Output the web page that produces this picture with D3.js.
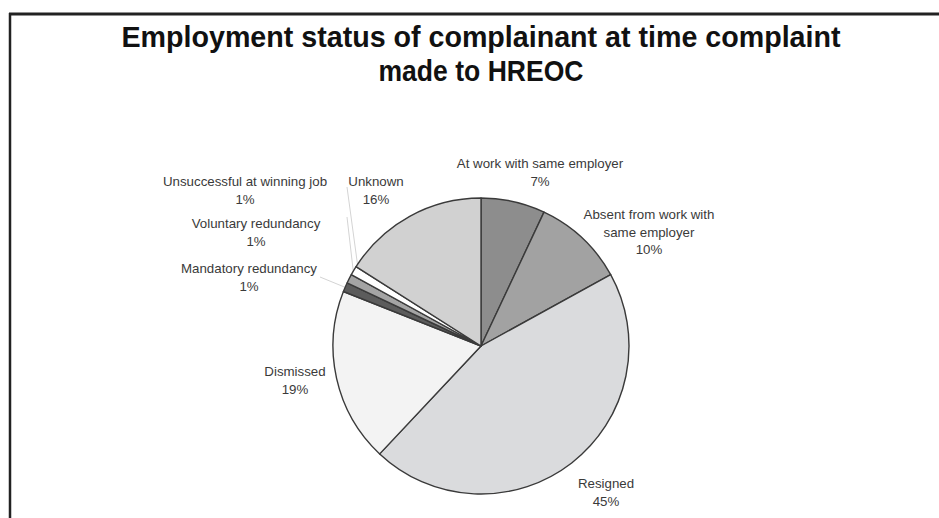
<!DOCTYPE html>
<html>
<head>
<meta charset="utf-8">
<script src="https://cdn.jsdelivr.net/npm/d3@7/dist/d3.min.js"></script>
<style>
  html, body { margin: 0; padding: 0; background: #fff; }
  svg { display: block; }
</style>
</head>
<body>
<svg id="chart" width="939" height="518"></svg>
<script>
// Employment status categories, clockwise from 12 o'clock
const categories = [
  "At work with same employer",
  "Absent from work with same employer",
  "Resigned",
  "Dismissed",
  "Mandatory redundancy",
  "Voluntary redundancy",
  "Unsuccessful at winning job",
  "Unknown"
];
const percentages = [7, 10, 45, 19, 1, 1, 1, 16];
const titleLines = ["Employment status of complainant at time complaint", "made to HREOC"];

const fills = ["#8d8d8d", "#a2a2a2", "#dadbdd", "#f3f3f3", "#5c5c5c", "#a4a4a4", "#ffffff", "#d1d1d1"];

// label text lines and anchor points (centre of first line's baseline)
const labelLayout = {
  "At work with same employer":          { lines: ["At work with same employer"], x: 540, y: 168 },
  "Absent from work with same employer": { lines: ["Absent from work with", "same employer"], x: 649, y: 219 },
  "Resigned":                            { lines: ["Resigned"], x: 606, y: 488 },
  "Dismissed":                           { lines: ["Dismissed"], x: 295, y: 376 },
  "Mandatory redundancy":                { lines: ["Mandatory redundancy"], x: 249, y: 273 },
  "Voluntary redundancy":                { lines: ["Voluntary redundancy"], x: 256, y: 228 },
  "Unsuccessful at winning job":         { lines: ["Unsuccessful at winning job"], x: 245, y: 186 },
  "Unknown":                             { lines: ["Unknown"], x: 376, y: 186 }
};
// faint leader lines for the thin slices: label-side end point
const leaderEnds = {
  "Mandatory redundancy": [320, 277],
  "Voluntary redundancy": [347, 217],
  "Unsuccessful at winning job": [347, 187]
};

const svg = d3.select("#chart");
const W = 939, H = 518;

// frame: top and left rules
svg.append("rect").attr("x", 0).attr("y", 0).attr("width", W).attr("height", H).attr("fill", "#fff");
svg.append("line").attr("x1", 9).attr("x2", W).attr("y1", 14).attr("y2", 14)
  .attr("stroke", "#222").attr("stroke-width", 3);
svg.append("line").attr("x1", 10).attr("x2", 10).attr("y1", 13).attr("y2", H)
  .attr("stroke", "#222").attr("stroke-width", 2.5);

// title, slightly condensed bold sans
const titleWidths = [719, 205];
titleLines.forEach((t, i) => {
  svg.append("text")
    .attr("x", 481).attr("y", 47 + i * 34)
    .attr("text-anchor", "middle")
    .attr("font-family", "Liberation Sans, Arial, sans-serif")
    .attr("font-weight", "bold")
    .attr("font-size", 29.5)
    .attr("fill", "#111")
    .attr("textLength", titleWidths[i])
    .attr("lengthAdjust", "spacingAndGlyphs")
    .text(t);
});

// pie
const cx = 481, cy = 346, R = 148;
const data = categories.map((c, i) => ({ name: c, value: percentages[i], fill: fills[i] }));
const pie = d3.pie().value(d => d.value).sort(null);
const arc = d3.arc().innerRadius(0).outerRadius(R);
const arcs = pie(data);

const g = svg.append("g").attr("transform", `translate(${cx},${cy})`);

// leader lines (drawn first so slices cover their ends)
const leaderArc = d3.arc().innerRadius(R - 6).outerRadius(R - 6);
arcs.forEach(a => {
  const end = leaderEnds[a.data.name];
  if (!end) return;
  const [px, py] = leaderArc.centroid(a);
  g.append("line")
    .attr("x1", px).attr("y1", py)
    .attr("x2", end[0] - cx).attr("y2", end[1] - cy)
    .attr("stroke", "#d4d4d4").attr("stroke-width", 1);
});

g.selectAll("path.slice")
  .data(arcs)
  .join("path")
  .attr("class", "slice")
  .attr("d", arc)
  .attr("fill", d => d.data.fill)
  .attr("stroke", "#3a3a3a")
  .attr("stroke-width", 1.4)
  .attr("stroke-linejoin", "round");

// labels
const labels = svg.append("g")
  .attr("font-family", "Liberation Sans, Arial, sans-serif")
  .attr("font-size", 13.3)
  .attr("fill", "#3a3a3a")
  .attr("text-anchor", "middle");
arcs.forEach(a => {
  const L = labelLayout[a.data.name];
  const t = labels.append("text");
  const lines = L.lines.concat([a.data.value + "%"]);
  lines.forEach((s, i) => {
    t.append("tspan").attr("x", L.x).attr("y", L.y + i * 17.5).text(s);
  });
});
</script>
</body>
</html>
